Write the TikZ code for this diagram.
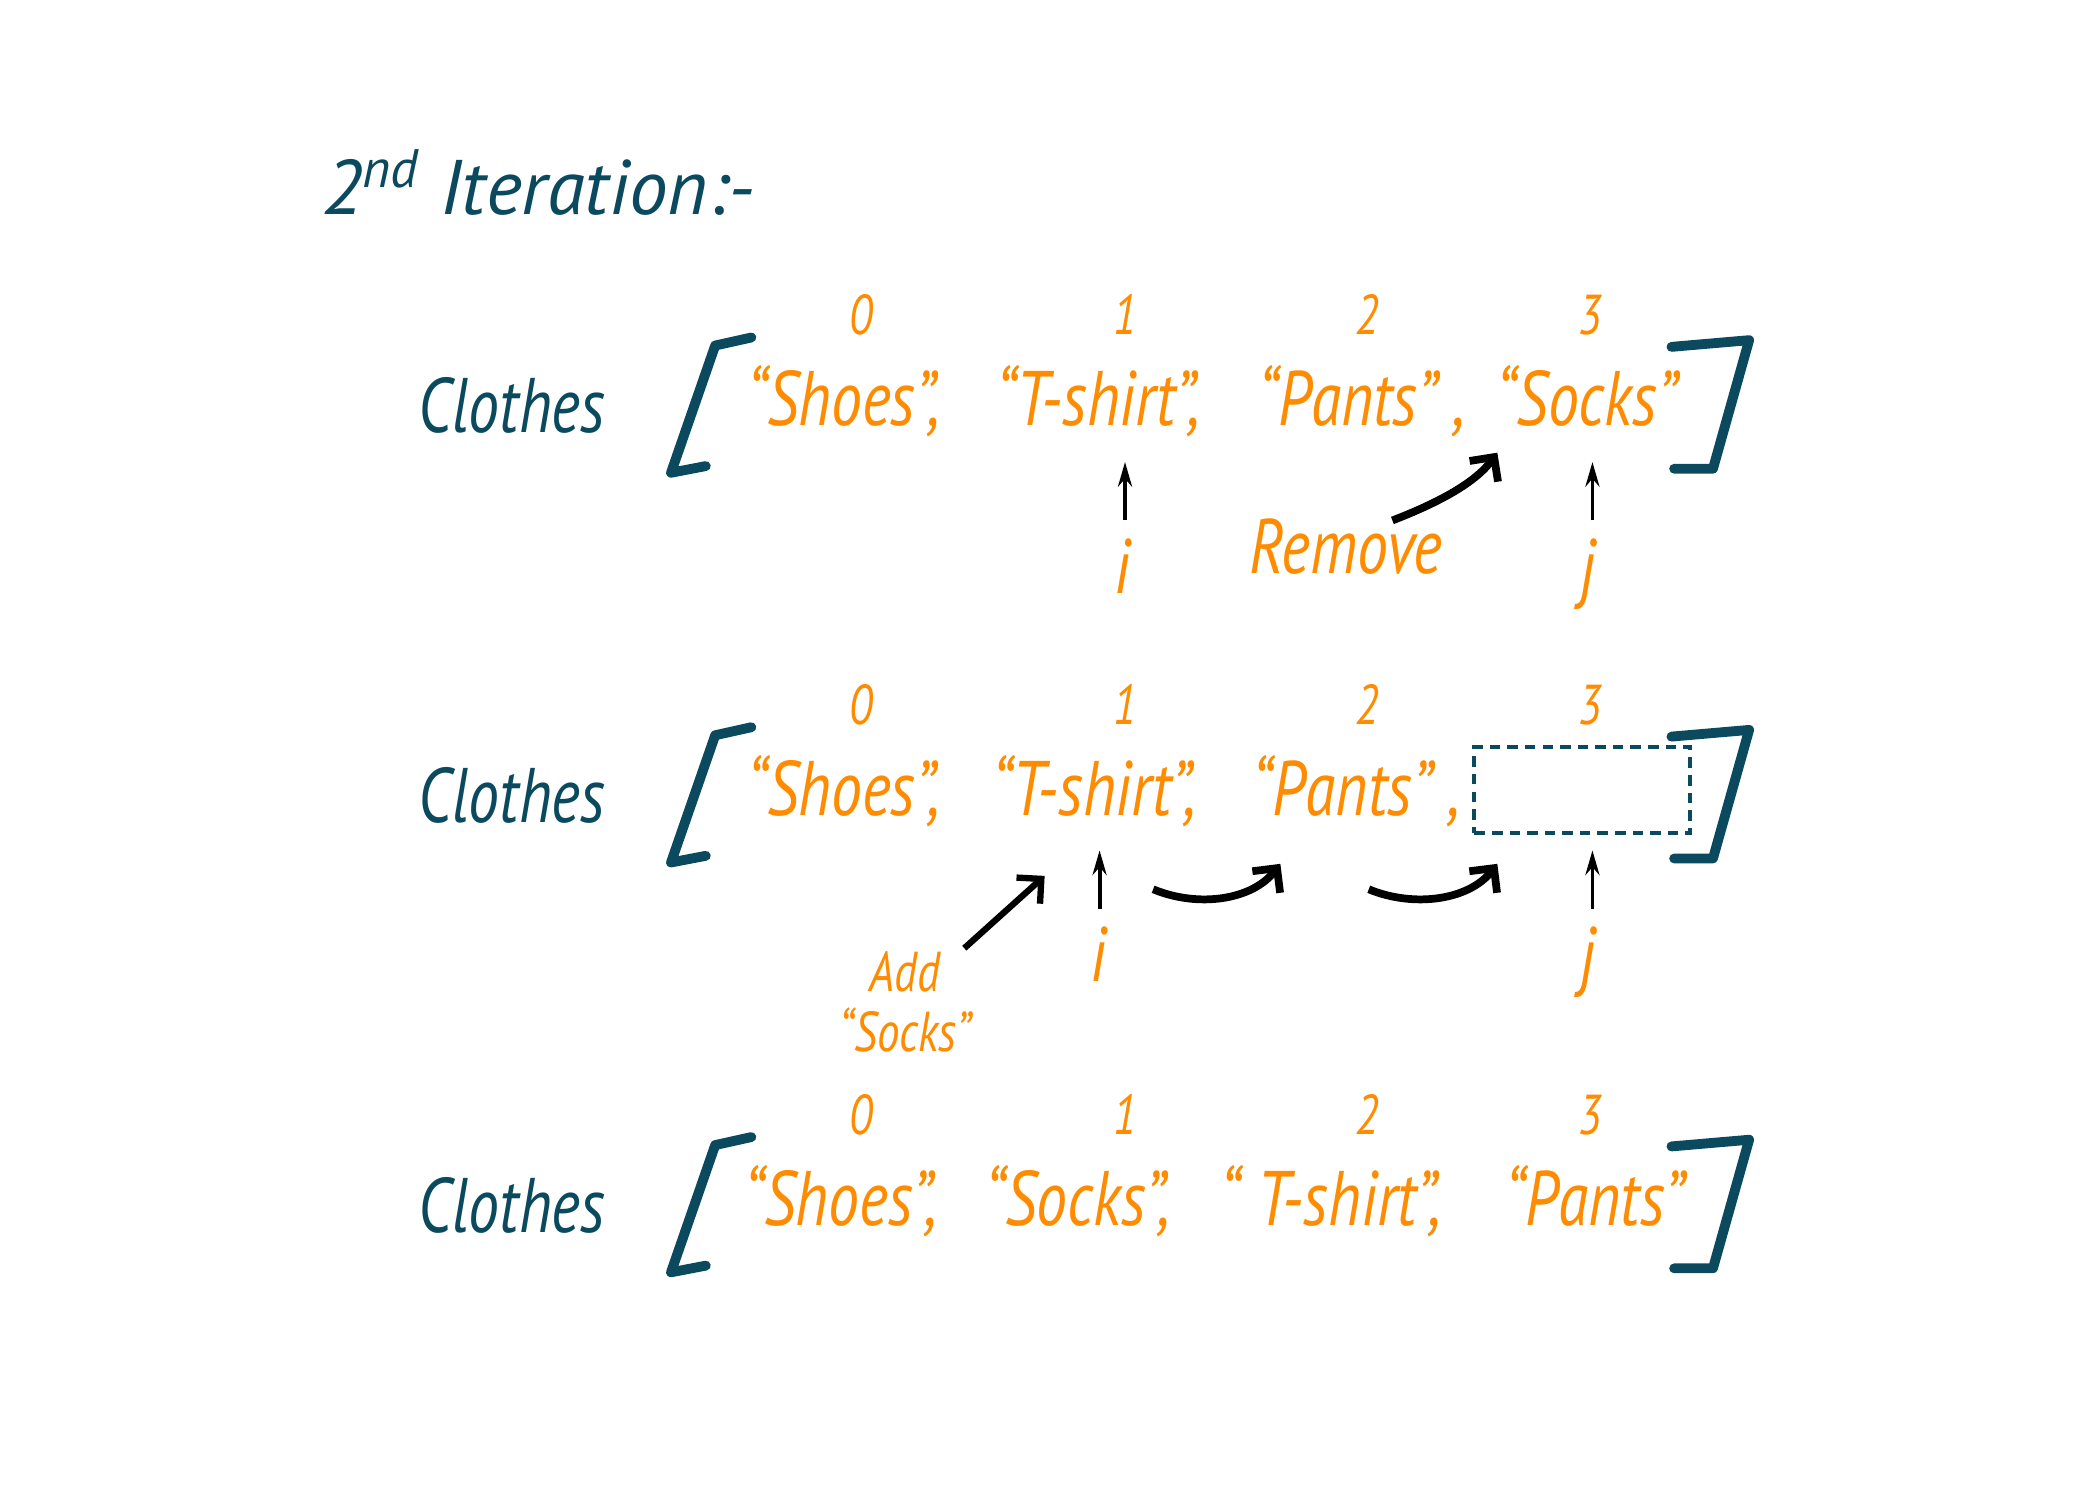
\documentclass[tikz,border=0pt]{standalone}
\usepackage{fontspec}
\setmainfont{PT Sans}[FakeStretch=0.8]
\newfontfamily\widehand{PT Sans}
\usetikzlibrary{arrows.meta, positioning}
\definecolor{inkteal}{RGB}{11,74,94}
\definecolor{inkorange}{RGB}{255,140,0}

\begin{document}
\begin{tikzpicture}[x=0.13393mm, y=-0.13393mm,
    arrname/.style={font=\fontsize{22}{26}\selectfont\itshape, text=inkteal, inner sep=0pt, anchor=base west},
    elem/.style={font=\fontsize{22}{26}\selectfont\itshape, text=inkorange, inner sep=0pt, anchor=base},
    idx/.style={font=\fontsize{16}{19}\selectfont\itshape, text=inkorange, inner sep=0pt, anchor=base},
    ptrname/.style={font=\fontsize{22}{26}\selectfont\itshape, text=inkorange, inner sep=2pt, anchor=base},
    ptr/.style={-{Stealth[length=7pt, width=4pt]}, line width=1.1pt, black, shorten <=3pt},
    shiftarrow/.style={-{Straight Barb[length=5pt, width=10pt]}, line width=2.2pt, black},
    brk/.style={line width=2.8pt, inkteal, line cap=round, line join=round},
    slot/.style={draw=inkteal, dashed, dash pattern=on 3pt off 2pt, line width=1.1pt, minimum width=21.6mm, minimum height=8.6mm, inner sep=0pt}
]
    \useasboundingbox (0,0) rectangle (1568,1120);

    % Title
    \node[arrname, font=\fontsize{22}{26}\selectfont\widehand\itshape] (title) at (240,160) {2\textsuperscript{nd} Iteration:-};

    % Names, brackets and indices of the three rows
    \foreach \r/\dy in {1/0, 2/291, 3/597} {
        \node[arrname] (clothes\r) at (312,323+\dy) {Clothes};
        \draw[brk] (561,252+\dy) -- (534,258+\dy) -- (501,353+\dy) -- (527,348+\dy);
        \draw[brk] (1248,259+\dy) -- (1306,254+\dy) -- (1279,350+\dy) -- (1250,350+\dy);
        \node[idx] (idx\r a) at (643,250+\dy) {0};
        \node[idx] (idx\r b) at (840,250+\dy) {1};
        \node[idx] (idx\r c) at (1021,250+\dy) {2};
        \node[idx] (idx\r d) at (1187,250+\dy) {3};
    }

    % Row 1
    \node[elem] (shoesA)  at (630,318)  {“Shoes”,};
    \node[elem] (tshirtA) at (820,318)  {“T-shirt”,};
    \node[elem] (pantsA)  at (1017,318) {“Pants” ,};
    \node[elem] (socksA)  at (1185,318) {“Socks”};

    \node[ptrname] (iA) at (838,443) {i};
    \node[ptrname] (jA) at (1186,443) {j};
    \coordinate (iAtop) at (840,345);
    \coordinate (jAtop) at (1189,345);
    \draw[ptr] (iA.north -| iAtop) -- (iAtop);
    \draw[ptr] (jA.north -| jAtop) -- (jAtop);

    \node[elem] (remove) at (1005,428) {Remove};
    \coordinate (removetip) at (1118,338);
    \draw[shiftarrow] (remove.north east) ++(-38,2) .. controls (1075,375) and (1102,360) .. (removetip);

    % Row 2
    \node[elem] (shoesB)  at (630,609)  {“Shoes”,};
    \node[elem] (tshirtB) at (817,609)  {“T-shirt”,};
    \node[elem] (pantsB)  at (1013,609) {“Pants” ,};
    \node[slot] (empty) at (1181.5,590) {};

    \node[ptrname] (iB) at (820,733) {i};
    \node[ptrname] (jB) at (1186,733) {j};
    \coordinate (iBtop) at (821,635);
    \coordinate (jBtop) at (1189,635);
    \draw[ptr] (iB.north -| iBtop) -- (iBtop);
    \draw[ptr] (jB.north -| jBtop) -- (jBtop);

    \coordinate (shiftAs) at (861,664);
    \coordinate (shiftAe) at (956,645);
    \coordinate (shiftBs) at (1022,664);
    \coordinate (shiftBe) at (1118,645);
    \draw[shiftarrow] (shiftAs) .. controls (895,678) and (935,672) .. (shiftAe);
    \draw[shiftarrow] (shiftBs) .. controls (1056,678) and (1097,672) .. (shiftBe);

    \node[elem, font=\fontsize{16}{17}\selectfont\itshape, align=center, anchor=center] (addnote) at (676,748) {Add\\“Socks”};
    \coordinate (addtail) at (720,708);
    \coordinate (addtip) at (780,654);
    \draw[shiftarrow, line width=1.8pt] (addtail) -- (addtip);

    % Row 3
    \node[elem] (shoesC)  at (628,915)  {“Shoes”,};
    \node[elem] (socksC)  at (805,915)  {“Socks”,};
    \node[elem] (tshirtC) at (994,915)  {“ T-shirt”,};
    \node[elem] (pantsC)  at (1191,915) {“Pants”};
\end{tikzpicture}
\end{document}
